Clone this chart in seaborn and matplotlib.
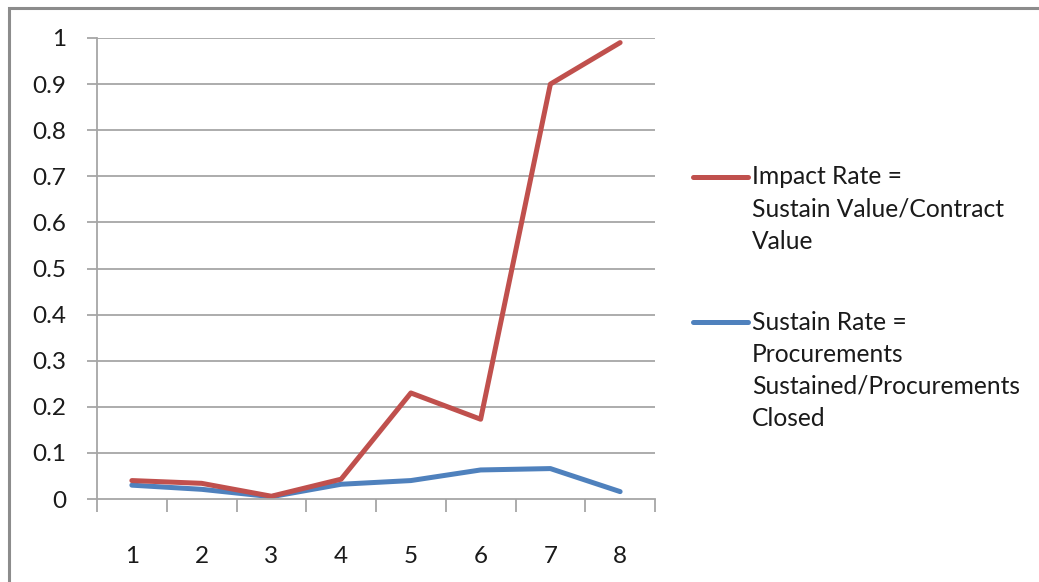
import matplotlib
matplotlib.use("Agg")
import matplotlib.pyplot as plt
from matplotlib.lines import Line2D
from matplotlib.patches import Rectangle
import seaborn as sns
import pandas as pd

# Period index and the two rates per period
periods = [1, 2, 3, 4, 5, 6, 7, 8]
impact_rate = [0.040, 0.034, 0.006, 0.043, 0.230, 0.173, 0.900, 0.990]
sustain_rate = [0.030, 0.021, 0.005, 0.032, 0.040, 0.063, 0.066, 0.016]
y_ticks = [0, 0.1, 0.2, 0.3, 0.4, 0.5, 0.6, 0.7, 0.8, 0.9, 1]
y_tick_labels = ["0", "0.1", "0.2", "0.3", "0.4", "0.5", "0.6", "0.7", "0.8", "0.9", "1"]

impact_label = ["Impact Rate =", "Sustain Value/Contract", "Value"]
sustain_label = ["Sustain Rate =", "Procurements", "Sustained/Procurements", "Closed"]

RED = "#C0504D"
BLUE = "#4F81BD"
GRID = "#A6A6A6"
TEXT = "#1A1A1A"

sns.set_theme(style="white")
plt.rcParams["font.family"] = ["Lato", "DejaVu Sans"]

W, H = 1039, 582
fig = plt.figure(figsize=(W / 100, H / 100), dpi=100)
fig.patch.set_facecolor("white")

# outer chart frame (runs off the right and bottom edges)
fig.add_artist(Rectangle((9 / W, -0.05), 1.2, 1 - 8 / H + 0.05, transform=fig.transFigure,
                         fill=False, edgecolor="#8C8C8C", linewidth=2.2))

ax = fig.add_axes([97 / W, 1 - 499 / H, (655 - 97) / W, (499 - 38) / H])

df = pd.DataFrame({
    "period": periods * 2,
    "rate": impact_rate + sustain_rate,
    "series": ["impact"] * len(periods) + ["sustain"] * len(periods),
})
sns.lineplot(data=df, x="period", y="rate", hue="series",
             palette={"impact": RED, "sustain": BLUE},
             hue_order=["sustain", "impact"],
             linewidth=3.6, legend=False, ax=ax, solid_capstyle="round", solid_joinstyle="round")

ax.set_xlim(0.5, 8.5)
ax.set_ylim(0, 1)
ax.set_xlabel("")
ax.set_ylabel("")

ax.set_yticks(y_ticks)
ax.set_yticklabels(y_tick_labels)
ax.set_xticks(periods)
ax.set_xticklabels([str(p) for p in periods])
ax.set_xticks([p + 0.5 for p in [0] + periods], minor=True)

for y in y_ticks[1:]:
    ax.axhline(y, color=GRID, linewidth=1.3, zorder=0)

for side in ["top", "right"]:
    ax.spines[side].set_visible(False)
ax.spines["left"].set_color(GRID)
ax.spines["bottom"].set_color(GRID)
ax.spines["left"].set_linewidth(1.3)
ax.spines["bottom"].set_linewidth(1.3)

ax.tick_params(axis="y", which="major", length=7, width=1.3, color=GRID, left=True,
               labelsize=17.5, labelcolor=TEXT, pad=15)
ax.tick_params(axis="x", which="major", length=0, labelsize=17.5, labelcolor=TEXT, pad=34)
ax.tick_params(axis="x", which="minor", length=9, width=1.3, color=GRID, bottom=True)

# legend drawn beside the plot, first line aligned with the swatch
def legend_entry(color, lines, y0):
    fig.add_artist(Line2D([693 / W, 748 / W], [1 - y0 / H, 1 - y0 / H],
                          transform=fig.transFigure, color=color, linewidth=3.6,
                          solid_capstyle="round"))
    for i, line in enumerate(lines):
        fig.text(752 / W, 1 - (y0 + 32 * i) / H, line, fontsize=17.7, color=TEXT,
                 ha="left", va="center")

legend_entry(RED, impact_label, 177)
legend_entry(BLUE, sustain_label, 322)

fig.savefig("out.png", dpi=100, facecolor="white")
